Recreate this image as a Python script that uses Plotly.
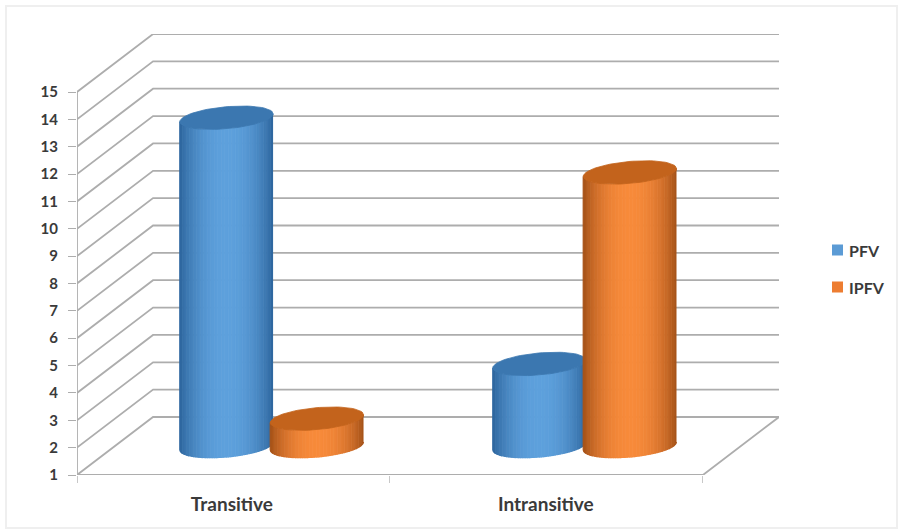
import numpy as np
import plotly.graph_objects as go

categories = ["Transitive", "Intransitive"]
pfv = [13, 4]
ipfv = [2, 11]
y_levels = list(range(1, 16))
series_names = ["PFV", "IPFV"]

# Oblique projection of the chart box, in axis units
DEPTH_X = 0.243
DEPTH_Y = 2.12
PX_X = 313.0   # pixels per category
PX_Y = 27.36   # pixels per value unit
PLOT_W = 626 + 76
PLOT_H = 441
LEFT = 77
TOP = 34
FIG_W = 904
FIG_H = 529

GRID = "#adadad"
SERIES = {
    "PFV": dict(edge=(46, 102, 158), mid=(93, 160, 220), top="#3b77b0", swatch="#5b9bd5", off=-0.144),
    "IPFV": dict(edge=(166, 82, 24), mid=(247, 138, 58), top="#c3631c", swatch="#ed7d31", off=0.145),
}
HALF_W = 0.149
HALF_H = 11.0 / PX_Y
TILT = 4.0 / PX_Y
N_STRIPS = 40


def mix(c0, c1, f):
    return "rgb(%d,%d,%d)" % tuple(round(a + (b - a) * f) for a, b in zip(c0, c1))


def rim(cx, cy, t):
    return cx + HALF_W * np.cos(t), cy - HALF_H * np.sin(t) + TILT * np.cos(t)


def paper_x(px):
    return (px - LEFT) / (FIG_W - LEFT)


def paper_y(py):
    return (TOP + PLOT_H - py) / PLOT_H


def add_cylinder(fig, center, value, style):
    cx = center + DEPTH_X / 2
    base = 1 + DEPTH_Y / 2
    top = value + DEPTH_Y / 2
    # Side wall: narrow shaded strips across the visible front half
    u = np.linspace(1, -1, N_STRIPS + 1)
    angles = np.arccos(u)
    for a, b in zip(angles[:-1], angles[1:]):
        ts = np.linspace(a, b, 3)
        xb, yb = rim(cx, base, ts)
        xt, yt = rim(cx, top, ts[::-1])
        f = 1 - abs(np.cos((a + b) / 2)) ** 2.2
        colour = mix(style["edge"], style["mid"], f)
        fig.add_trace(go.Scatter(
            x=np.r_[xb, xt], y=np.r_[yb, yt], mode="lines", fill="toself",
            fillcolor=colour, line=dict(color=colour, width=1.2),
            showlegend=False, hoverinfo="skip"))
    # Top cap
    ts = np.linspace(0, 2 * np.pi, 80)
    xc, yc = rim(cx, top, ts)
    fig.add_trace(go.Scatter(
        x=xc, y=yc, mode="lines", fill="toself", fillcolor=style["top"],
        line=dict(color=style["top"], width=0.8), showlegend=False, hoverinfo="skip"))


fig = go.Figure()

# Back wall, side wall and floor rules
gx, gy = [], []
for v in y_levels:
    gx += [0, DEPTH_X, 2 + DEPTH_X, None]
    gy += [v, v + DEPTH_Y, v + DEPTH_Y, None]
gx += [0, 2, 2 + DEPTH_X, None, 0, 0]
gy += [1, 1, 1 + DEPTH_Y, None, 1, y_levels[-1]]
fig.add_trace(go.Scatter(x=gx, y=gy, mode="lines", line=dict(color=GRID, width=1.8),
                         showlegend=False, hoverinfo="skip"))

for i in range(len(categories)):
    add_cylinder(fig, i + 0.5 + SERIES["PFV"]["off"], pfv[i], SERIES["PFV"])
    add_cylinder(fig, i + 0.5 + SERIES["IPFV"]["off"], ipfv[i], SERIES["IPFV"])

# Key on the right: swatches and labels
shapes = [dict(type="rect", xref="paper", yref="paper", layer="below",
               x0=paper_x(6), x1=paper_x(897), y0=paper_y(528), y1=paper_y(6),
               line=dict(color="#efefef", width=2), fillcolor="white")]
annotations = []
for name, py in zip(series_names, [250, 287]):
    shapes.append(dict(type="rect", xref="paper", yref="paper",
                       x0=paper_x(832), x1=paper_x(843), y0=paper_y(py + 5.5), y1=paper_y(py - 5.5),
                       line=dict(width=0), fillcolor=SERIES[name]["swatch"]))
    annotations.append(dict(xref="paper", yref="paper", x=paper_x(847), y=paper_y(py),
                            xanchor="left", yanchor="middle", text=name, showarrow=False,
                            font=dict(size=16)))

font = dict(family="Lato, Carlito, sans-serif", size=15, color="#3a3a3a", weight="bold")
fig.update_layout(
    width=FIG_W, height=FIG_H, autosize=False,
    margin=dict(l=LEFT, r=0, t=TOP, b=FIG_H - TOP - PLOT_H),
    paper_bgcolor="white", plot_bgcolor="white",
    font=font, showlegend=False,
    xaxis=dict(domain=[0, PLOT_W / (FIG_W - LEFT)], range=[0, 2 + DEPTH_X], tickmode="array",
               tickvals=[0.495, 1.498], ticktext=categories, ticks="", ticklabelstandoff=16,
               tickfont=dict(size=19), showgrid=False, zeroline=False, showline=False,
               minor=dict(tickmode="array", tickvals=[0, 1, 2], ticks="outside",
                          ticklen=7, tickcolor="#c8c8c8", showgrid=False)),
    yaxis=dict(range=[1, y_levels[-1] + DEPTH_Y], tickmode="array", tickvals=y_levels,
               ticks="outside", ticklen=8, tickcolor=GRID, tickwidth=1,
               ticklabelstandoff=7, showgrid=False, zeroline=False, showline=False),
    shapes=shapes,
    annotations=annotations,
)

fig.write_html("out.html")
